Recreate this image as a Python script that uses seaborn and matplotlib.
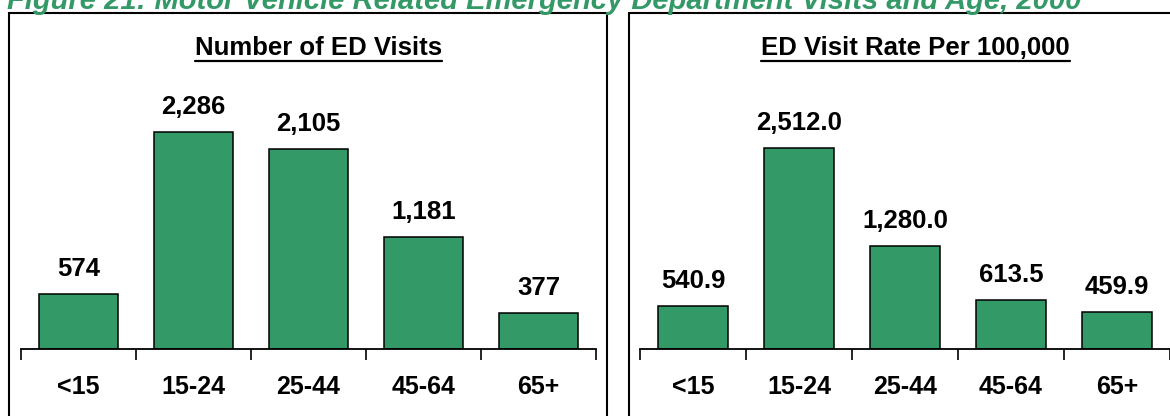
import matplotlib
matplotlib.use("Agg")
import matplotlib.pyplot as plt
import seaborn as sns
import pandas as pd
from matplotlib.patches import Rectangle
from matplotlib.lines import Line2D

# ---- data ----
categories = ["<15", "15-24", "25-44", "45-64", "65+"]
visits = [574, 2286, 2105, 1181, 377]
rates = [540.9, 2512.0, 1280.0, 613.5, 459.9]
fig_title = "Figure 21: Motor Vehicle Related Emergency Department Visits and Age, 2000"
left_title = "Number of ED Visits"
right_title = "ED Visit Rate Per 100,000"

GREEN = "#339966"
W, H = 1170, 416

sns.set_theme(style="white")
plt.rcParams["font.family"] = ["Liberation Sans", "DejaVu Sans"]

fig = plt.figure(figsize=(W / 100, H / 100), dpi=100)
fig.patch.set_facecolor("white")


def px_axes(x0, x1, ybase, ytop):
    return [x0 / W, (H - ybase) / H, (x1 - x0) / W, (ybase - ytop) / H]


ax1 = fig.add_axes(px_axes(21, 596, 349, 60))
ax2 = fig.add_axes(px_axes(640, 1170, 349, 60))

df1 = pd.DataFrame({"cat": categories, "val": visits})
df2 = pd.DataFrame({"cat": categories, "val": rates})

specs = [
    (ax1, df1, 0.68, 289 / 0.0951, "{:,.0f}"),
    (ax2, df2, 0.66, 289 / 0.0801, "{:,.1f}"),
]

for ax, df, width, ymax, fmt in specs:
    sns.barplot(data=df, x="cat", y="val", ax=ax, color=GREEN, saturation=1,
                width=width, edgecolor="black", linewidth=1.1)
    ax.set_xlim(-0.5, len(categories) - 0.5)
    ax.set_ylim(0, ymax)
    ax.set_xlabel("")
    ax.set_ylabel("")
    ax.set_yticks([])
    for s in ["top", "right", "left"]:
        ax.spines[s].set_visible(False)
    ax.spines["bottom"].set_color("black")
    ax.spines["bottom"].set_linewidth(1.3)
    ax.set_xticks(range(len(categories)))
    ax.set_xticklabels(categories, fontsize=18, fontweight="bold", color="black")
    ax.tick_params(axis="x", which="major", length=0, pad=19)
    ax.set_xticks([i - 0.5 for i in range(len(categories) + 1)], minor=True)
    ax.tick_params(axis="x", which="minor", length=8, width=1.2, color="black",
                   direction="out", bottom=True)
    ax.set_facecolor("none")
    for i, v in enumerate(df["val"]):
        ax.annotate(fmt.format(v), xy=(i, v), xytext=(0, 13),
                    textcoords="offset points", ha="center", va="baseline",
                    fontsize=18.5, fontweight="bold", color="black")

# panel borders
fig.add_artist(Rectangle((9 / W, -0.05), (606.7 - 9) / W, 1 - 12.7 / H + 0.05,
                         transform=fig.transFigure, fill=False, lw=1.5,
                         edgecolor="black", clip_on=False))
fig.add_artist(Rectangle((629 / W, -0.05), 0.6, 1 - 12.7 / H + 0.05,
                         transform=fig.transFigure, fill=False, lw=1.5,
                         edgecolor="black", clip_on=False))

# figure title (partly cut off at the top, as in the reference)
fig.text(7 / W, 1 - 9 / H, fig_title, ha="left", va="baseline", fontsize=21,
         fontweight="bold", fontstyle="italic", color=GREEN)

# panel titles with underline
t1 = fig.text(318.5 / W, 1 - 55 / H, left_title, ha="center", va="baseline",
              fontsize=18.5, fontweight="bold", color="black")
t2 = fig.text(915.5 / W, 1 - 55 / H, right_title, ha="center", va="baseline",
              fontsize=18.5, fontweight="bold", color="black")
fig.canvas.draw()
r = fig.canvas.get_renderer()
for t in (t1, t2):
    bb = t.get_window_extent(renderer=r)
    yline = 1 - 61 / H
    fig.add_artist(Line2D([bb.x0 / W, bb.x1 / W], [yline, yline],
                          transform=fig.transFigure, color="black", lw=1.6))

fig.savefig("out.png", dpi=100)
